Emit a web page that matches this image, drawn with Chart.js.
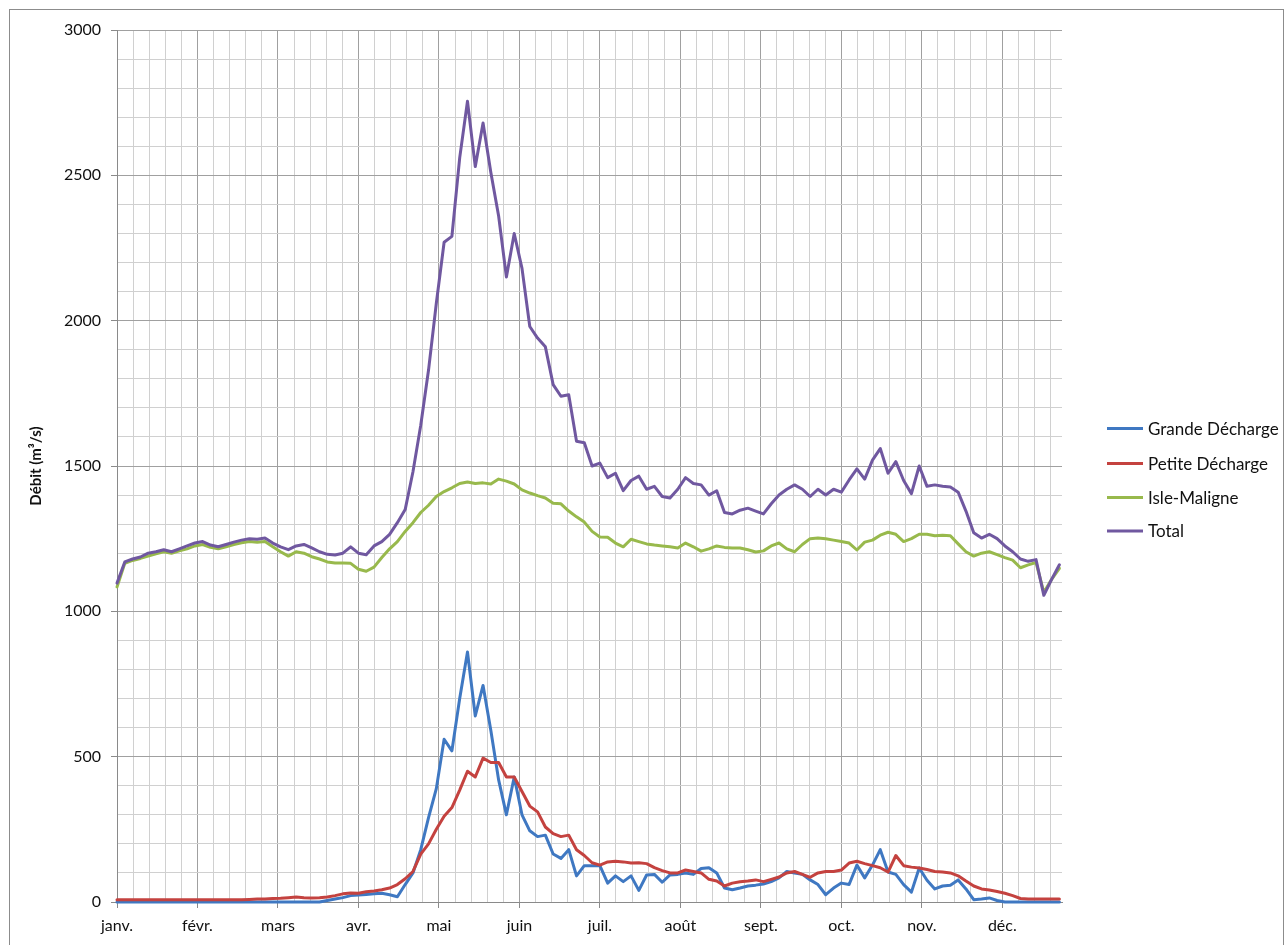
<!DOCTYPE html>
<html lang="fr">
<head>
<meta charset="utf-8">
<title>Débits journaliers</title>
<script src="https://cdn.jsdelivr.net/npm/chart.js@4.4.1/dist/chart.umd.min.js"></script>
<style>
  html, body { margin: 0; padding: 0; background: #fff; }
  #wrap { width: 1288px; height: 945px; position: relative; }
</style>
</head>
<body>
<div id="wrap"><canvas id="chart" width="1288" height="945"></canvas></div>
<script>
// Sampling grid: day of year, every third day
const days = Array.from({ length: 122 }, (_, i) => i * 3);

// Month labels, one every 31 days on the axis
const monthLabels = ['janv.', 'févr.', 'mars', 'avr.', 'mai', 'juin',
                     'juil.', 'août', 'sept.', 'oct.', 'nov.', 'déc.'];

const seriesNames = ['Grande Décharge', 'Petite Décharge', 'Isle-Maligne', 'Total'];

// Flows in m³/s
const grandeDecharge = [
  0, 0, 0, 0, 0, 0, 0, 0, 0, 0,
  0, 0, 0, 0, 0, 0, 0, 0, 0, 0,
  0, 0, 0, 0, 0, 0, 0, 5, 10, 15,
  22, 24, 26, 28, 30, 25, 18, 60, 100, 180,
  290, 390, 560, 520, 700, 860, 640, 745, 590, 420,
  300, 430, 300, 245, 225, 230, 165, 150, 180, 90,
  125, 125, 125, 65, 90, 70, 90, 40, 93, 95,
  68, 93, 95, 100, 95, 115, 118, 100, 48, 42,
  48, 55, 58, 62, 70, 83, 105, 100, 95, 76,
  60, 25, 48, 65, 60, 127, 83, 127, 180, 103,
  95, 60, 34, 117, 75, 45, 55, 58, 76, 45,
  8, 10, 14, 5, 0, 0, 0, 0, 0, 0,
  0, 0
];

const petiteDecharge = [
  8, 8, 8, 8, 8, 8, 8, 8, 8, 8,
  8, 8, 8, 8, 8, 8, 8, 9, 10, 10,
  12, 13, 15, 17, 15, 14, 15, 17, 22, 28,
  31, 30, 35, 38, 42, 48, 60, 80, 105, 165,
  200, 250, 295, 325, 385, 450, 430, 495, 480, 480,
  430, 430, 380, 330, 310, 258, 235, 225, 230, 180,
  160, 135, 127, 138, 140, 138, 134, 135, 132, 118,
  108, 100, 100, 110, 105, 100, 78, 72, 55, 65,
  70, 72, 76, 70, 78, 86, 100, 105, 95, 85,
  100, 105, 105, 110, 134, 140, 132, 125, 118, 103,
  160, 125, 120, 117, 112, 105, 103, 100, 90, 72,
  55, 45, 41, 36, 30, 22, 12, 10, 10, 10,
  10, 10
];

const isleMaligne = [
  1084, 1165, 1175, 1182, 1190, 1198, 1205, 1200, 1208, 1215,
  1225, 1230, 1220, 1215, 1222, 1230, 1236, 1240, 1238, 1240,
  1222, 1205, 1190, 1205, 1200, 1188, 1180, 1170, 1166, 1166,
  1165, 1145, 1138, 1152, 1185, 1215, 1240, 1275, 1305, 1340,
  1365, 1395, 1412, 1425, 1440, 1445, 1440, 1442, 1438, 1455,
  1448, 1438, 1418, 1407, 1398, 1390, 1372, 1370, 1345, 1325,
  1307, 1275, 1256, 1255, 1235, 1222, 1248, 1240, 1232, 1228,
  1225, 1222, 1218, 1235, 1222, 1207, 1215, 1225, 1220, 1218,
  1218, 1212, 1204, 1208, 1225, 1235, 1215, 1205, 1230, 1250,
  1252, 1250, 1245, 1240, 1235, 1211, 1238, 1245, 1262, 1272,
  1265, 1240, 1250, 1265, 1265, 1260, 1262, 1260, 1232, 1205,
  1190, 1200, 1205, 1195, 1185, 1176, 1150, 1160, 1168, 1065,
  1110, 1148
];

const total = [
  1097, 1170, 1180, 1187, 1200, 1205, 1212, 1205, 1215, 1225,
  1235, 1240, 1228, 1222, 1230, 1238, 1245, 1250, 1248, 1252,
  1235, 1222, 1212, 1225, 1230, 1218, 1205, 1196, 1194, 1200,
  1222, 1200, 1195, 1225, 1240, 1265, 1305, 1350, 1480, 1640,
  1830, 2060, 2270, 2290, 2560, 2755, 2530, 2680, 2510, 2360,
  2150, 2300, 2180, 1980, 1940, 1910, 1780, 1740, 1745, 1585,
  1580, 1500, 1510, 1460, 1475, 1415, 1450, 1465, 1420, 1430,
  1395, 1390, 1420, 1460, 1440, 1435, 1400, 1415, 1340, 1335,
  1348, 1355, 1345, 1335, 1370, 1400, 1420, 1435, 1420, 1395,
  1420, 1400, 1420, 1410, 1452, 1490, 1455, 1520, 1560, 1475,
  1515, 1450, 1405, 1500, 1430, 1435, 1430, 1428, 1410, 1345,
  1270, 1252, 1265, 1250, 1225, 1205, 1180, 1172, 1178, 1055,
  1110, 1160
];

const seriesValues = [grandeDecharge, petiteDecharge, isleMaligne, total];
const seriesColors = ['#3f78c2', '#c4423f', '#98b94c', '#7058a0'];

const FONT = 'Lato, "Open Sans", sans-serif';
const MAJOR_GRID = '#a0a0a0';
const MINOR_GRID = '#d0d0d0';
const AXIS_LINE = '#8a8a8a';

// x ticks: major every 31 days, four minor divisions between
const xTickValues = [];
for (let i = 0; i * 6.2 <= 364; i++) xTickValues.push(i * 6.2);

const datasets = seriesNames.map((name, s) => ({
  label: name,
  data: days.map((d, i) => ({ x: d, y: seriesValues[s][i] })),
  borderColor: seriesColors[s],
  backgroundColor: seriesColors[s],
  borderWidth: 3,
  pointRadius: 0,
  tension: 0,
  borderJoinStyle: 'round',
  borderCapStyle: 'round',
  clip: false,
  order: 3 - s
}));

// White page with a thin grey frame
const framePlugin = {
  id: 'frame',
  beforeDraw(chart) {
    const c = chart.ctx;
    c.save();
    c.fillStyle = '#fff';
    c.fillRect(0, 0, chart.width, chart.height);
    c.strokeStyle = '#8c8c8c';
    c.lineWidth = 1;
    c.strokeRect(9.5, 9.5, chart.width - 14, chart.height - 5);
    c.restore();
  }
};

// Legend on the right: short line sample + label
const sideLegend = {
  id: 'sideLegend',
  afterDraw(chart) {
    const c = chart.ctx;
    const rows = [428.5, 463.5, 497.5, 531];
    c.save();
    c.font = '17px ' + FONT;
    c.textBaseline = 'middle';
    c.textAlign = 'left';
    chart.data.datasets.forEach((ds, i) => {
      const y = rows[i];
      c.strokeStyle = ds.borderColor;
      c.lineWidth = 3;
      c.beginPath();
      c.moveTo(1107, y);
      c.lineTo(1143, y);
      c.stroke();
      c.fillStyle = '#111';
      c.fillText(ds.label, 1148, y + 1);
    });
    c.restore();
  }
};

new Chart(document.getElementById('chart'), {
  type: 'line',
  data: { datasets },
  options: {
    responsive: false,
    animation: false,
    devicePixelRatio: 1,
    layout: { padding: { top: 30, right: 226, bottom: 0, left: 0 } },
    plugins: {
      legend: { display: false },
      tooltip: { enabled: false }
    },
    scales: {
      x: {
        type: 'linear',
        min: 0,
        max: 364,
        afterBuildTicks(scale) {
          scale.ticks = xTickValues.map(v => ({ value: v }));
        },
        afterFit(scale) { scale.height = 43; },
        ticks: {
          autoSkip: false,
          maxRotation: 0,
          minRotation: 0,
          padding: 8,
          color: '#111',
          font: { family: FONT, size: 16 },
          callback(value, index) {
            return index % 5 === 0 ? monthLabels[index / 5] : '';
          }
        },
        grid: {
          color: ctx => (ctx.index % 5 === 0 ? MAJOR_GRID : MINOR_GRID),
          tickColor: ctx => (ctx.index % 5 === 0 ? AXIS_LINE : 'rgba(0,0,0,0)'),
          tickLength: 6,
          lineWidth: 1
        },
        border: { color: AXIS_LINE, width: 1 }
      },
      y: {
        min: 0,
        max: 3000,
        afterFit(scale) { scale.width = 117; },
        ticks: {
          stepSize: 100,
          autoSkip: false,
          padding: 10,
          color: '#111',
          font: { family: FONT, size: 16 },
          callback(value) {
            return value % 500 === 0 ? String(value) : '';
          }
        },
        grid: {
          color: ctx => (ctx.tick && ctx.tick.value % 500 === 0 ? MAJOR_GRID : MINOR_GRID),
          tickColor: ctx => (ctx.tick && ctx.tick.value % 500 === 0 ? AXIS_LINE : 'rgba(0,0,0,0)'),
          tickLength: 6,
          lineWidth: 1
        },
        border: { color: AXIS_LINE, width: 1 },
        title: {
          display: true,
          text: 'Débit (m³/s)',
          color: '#111',
          font: { family: FONT, size: 15, weight: 'bold' },
          padding: { top: 27, bottom: 0 }
        }
      }
    }
  },
  plugins: [framePlugin, sideLegend]
});
</script>
</body>
</html>
